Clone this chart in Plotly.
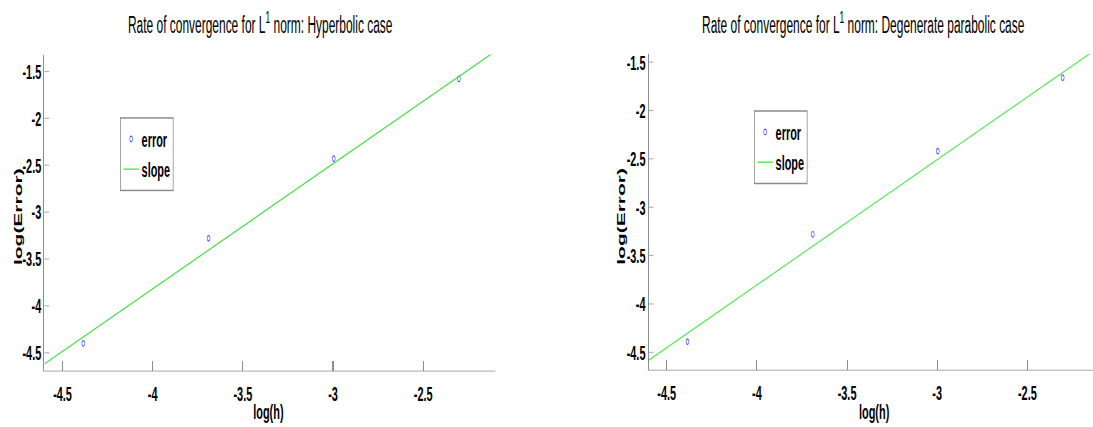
import plotly.graph_objects as go

# ---- data ----
log_h_hyp = [-4.385, -3.690, -2.996, -2.302]
log_err_hyp = [-4.40, -3.28, -2.43, -1.58]
slope_x_hyp = [-4.6, -2.1]
slope_y_hyp = [-4.618, -1.285]

log_h_deg = [-4.385, -3.690, -2.997, -2.304]
log_err_deg = [-4.39, -3.28, -2.42, -1.66]
slope_x_deg = [-4.6, -2.1]
slope_y_deg = [-4.582, -1.342]

x_ticks = [-4.5, -4, -3.5, -3, -2.5]
x_tick_text = ["-4.5", "-4", "-3.5", "-3", "-2.5"]
y_ticks = [-4.5, -4, -3.5, -3, -2.5, -2, -1.5]
y_tick_text = ["-4.5", "-4", "-3.5", "-3", "-2.5", "-2", "-1.5"]

titles = ["Rate of convergence for L<sup>1</sup> norm: Hyperbolic case",
          "Rate of convergence for L<sup>1</sup> norm: Degenerate parabolic case"]

# The reference is a horizontally squeezed image: draw at a wider "virtual" width
# and squeeze the whole figure horizontally when the page loads.
SQ = 0.52
W_REF, H = 1093, 427
W = round(W_REF / SQ)
SQ = W_REF / W
AX = "#8c8c8c"
FONT = "Liberation Sans, Arial, Helvetica, sans-serif"


def px(x):
    return x / W_REF


def py(y):
    return 1 - y / H


MARK = dict(symbol="circle-open", size=5.5, color="rgb(70,70,255)", line=dict(width=1.1))

fig = go.Figure()
fig.add_trace(go.Scatter(x=log_h_hyp, y=log_err_hyp, mode="markers", name="error",
                         marker=MARK, xaxis="x", yaxis="y", legend="legend"))
fig.add_trace(go.Scatter(x=slope_x_hyp, y=slope_y_hyp, mode="lines", name="slope",
                         line=dict(color="#45e045", width=1.4),
                         xaxis="x", yaxis="y", legend="legend"))
fig.add_trace(go.Scatter(x=log_h_deg, y=log_err_deg, mode="markers", name="error",
                         marker=MARK, xaxis="x2", yaxis="y2", legend="legend2"))
fig.add_trace(go.Scatter(x=slope_x_deg, y=slope_y_deg, mode="lines", name="slope",
                         line=dict(color="#5ce85c", width=1.4),
                         xaxis="x2", yaxis="y2", legend="legend2"))

TICKFONT = dict(family=FONT, size=21, color="black", weight="bold")


def xax(domain, rng, anchor):
    return dict(domain=domain, range=rng, anchor=anchor, showgrid=False, zeroline=False,
                showline=True, linecolor=AX, linewidth=1, ticks="inside", ticklen=10,
                tickwidth=2, tickcolor=AX, tickvals=x_ticks, ticktext=x_tick_text,
                tickfont=TICKFONT, ticklabelstandoff=4)


def yax(domain, rng, anchor):
    return dict(domain=domain, range=rng, anchor=anchor, showgrid=False, zeroline=False,
                showline=True, linecolor=AX, linewidth=2, ticks="inside", ticklen=9,
                tickwidth=1, tickcolor=AX, tickvals=y_ticks, ticktext=y_tick_text,
                tickfont=TICKFONT)


def leg(x, y):
    return dict(x=x, y=y, bgcolor="white", bordercolor=AX, borderwidth=1.5,
                font=dict(family=FONT, size=21, color="black", weight="bold"),
                itemwidth=30, tracegroupgap=0, xanchor="left", yanchor="top")


fig.update_layout(
    width=W, height=H, margin=dict(l=0, r=0, t=0, b=0),
    paper_bgcolor="white", plot_bgcolor="white",
    xaxis=xax([px(44.5), px(495.3)], [-4.6, -2.1], "y"),
    yaxis=yax([py(370.2), py(51.9)], [-4.69, -1.32], "x"),
    xaxis2=xax([px(648.7), 1.0], [-4.6, -2.136], "y2"),
    yaxis2=yax([py(369.3), py(51.3)], [-4.68, -1.415], "x2"),
    legend=leg(px(120), py(115)),
    legend2=leg(px(754), py(108)),
)

fig.add_annotation(text=titles[0], x=px(260.5), y=py(20),
                   font=dict(family=FONT, size=23, color="black"))
fig.add_annotation(text=titles[1], x=px(863.4), y=py(20),
                   font=dict(family=FONT, size=23, color="black"))

for xc in [268.5, 874]:
    fig.add_annotation(text="<b>log(h)</b>", x=px(xc), y=py(411),
                       font=dict(family=FONT, size=21, color="black"))
for xc in [18, 621]:
    fig.add_annotation(text="<b>log(Error)</b>", x=px(xc), y=py(215), textangle=-90,
                       font=dict(family=FONT, size=21, color="black"))

fig.update_annotations(xref="paper", yref="paper", showarrow=False,
                       xanchor="center", yanchor="middle")

squeeze_js = """
document.documentElement.style.overflow = 'hidden';
document.body.style.margin = '0';
document.body.style.overflow = 'hidden';
var gd = document.getElementById('{plot_id}');
gd.style.transformOrigin = '0 0';
gd.style.transform = 'scaleX(%.5f)';
""" % SQ

fig.write_html("out.html", post_script=squeeze_js, config=dict(displayModeBar=False))
